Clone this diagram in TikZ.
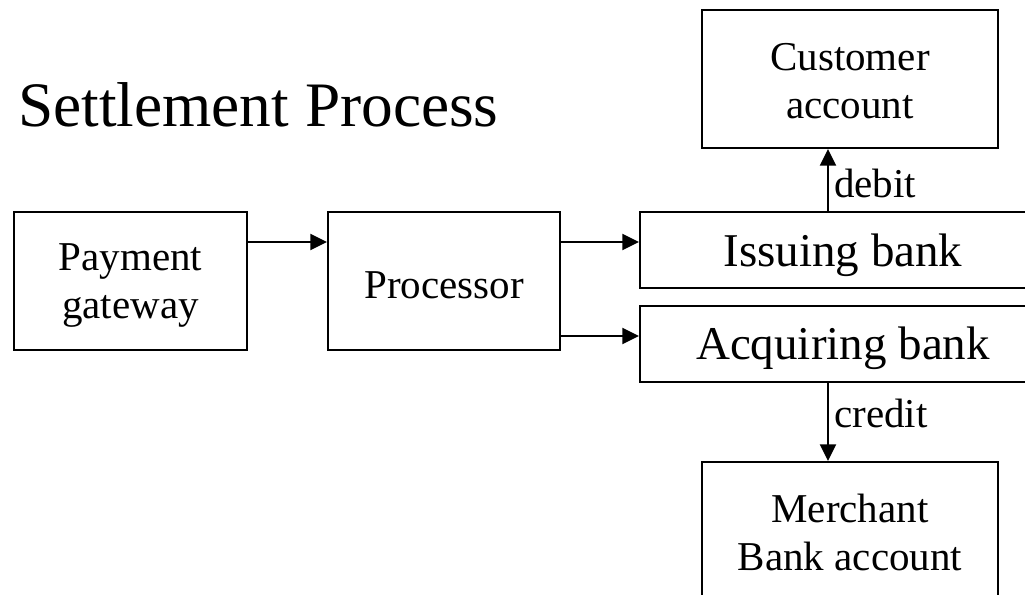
\documentclass[tikz,border=0pt]{standalone}
\usepackage{fontspec}
\setmainfont{Liberation Serif}
\usetikzlibrary{arrows.meta}
\begin{document}
\begin{tikzpicture}[x=0.75pt,y=-0.75pt,
  box/.style={draw,line width=1.5pt,inner sep=0pt},
  txt/.style={align=center,inner sep=0pt,font=\fontsize{30.75pt}{36pt}\selectfont},
  banktxt/.style={inner sep=0pt,font=\fontsize{35.25pt}{40pt}\selectfont},
  arr/.style={line width=1.5pt,-{Triangle[length=12.5pt,width=12pt]}},
  lbl/.style={anchor=west,inner sep=0pt,font=\fontsize{30.75pt}{36pt}\selectfont}]
\clip (0,0) rectangle (1025,595);
\fill[white] (0,0) rectangle (1025,595);
\node[anchor=base west,inner sep=0pt,font=\fontsize{47.5pt}{54pt}\selectfont] (title) at (18,127) {Settlement Process};
\node[box,minimum width=174.75pt,minimum height=103.5pt] (pg) at (130.5,281) {};
\node[txt] (pgt) at ([yshift=-3.75pt]pg.center) {Payment\\gateway};
\node[box,minimum width=174pt,minimum height=103.5pt] (proc) at (444,281) {};
\node[txt] (proct) at ([yshift=-3pt]proc.center) {Processor};
\node[box,minimum width=304.5pt,minimum height=57pt] (iss) at (843,250) {};
\node[banktxt] (isst) at ([yshift=-4pt]iss.center) {Issuing bank};
\node[box,minimum width=304.5pt,minimum height=57pt] (acq) at (843,344) {};
\node[banktxt] (acqt) at ([yshift=-3pt]acq.center) {Acquiring bank};
\node[box,minimum width=222pt,minimum height=103.5pt] (cust) at (850,79) {};
\node[txt] (custt) at ([yshift=-1.5pt]cust.center) {Customer\\account};
\node[box,minimum width=222pt,minimum height=103.5pt] (merch) at (850,531) {};
\node[txt] (mercht) at ([yshift=-1pt]merch.center) {Merchant\\Bank account};
\coordinate (vx) at (828,0);
\draw[arr] ([yshift=29.25pt]pg.east) -- ([yshift=29.25pt]proc.west);
\draw[arr] ([yshift=29.25pt]proc.east) -- ([yshift=6pt]iss.west);
\draw[arr] ([yshift=-41.25pt]proc.east) -- ([yshift=6pt]acq.west);
\draw[arr] (iss.north -| vx) -- (cust.south -| vx);
\draw[arr] (acq.south -| vx) -- (merch.north -| vx);
\node[lbl] (debit) at (834,183) {debit};
\node[lbl] (credit) at (834,413) {credit};
\end{tikzpicture}
\end{document}
